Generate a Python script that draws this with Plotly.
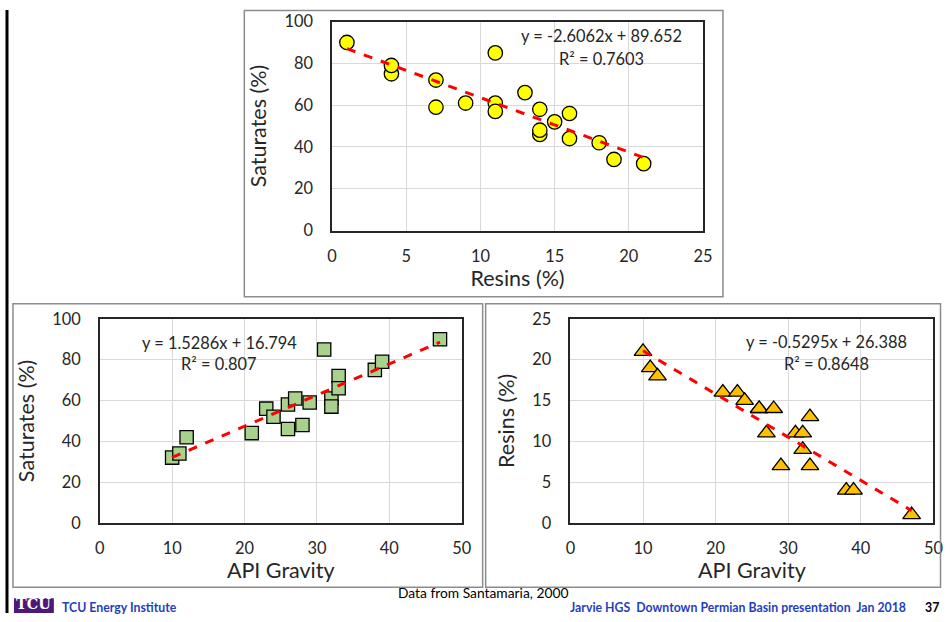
import plotly.graph_objects as go

# ---- data (19 oil samples, Santamaria 2000) ----
api_gravity = [10, 11, 12, 21, 23, 24, 26, 26, 27, 28, 29, 31, 32, 32, 33, 33, 38, 39, 47]
resins =      [21, 19, 18, 16, 16, 15, 14, 14, 11, 14, 7, 11, 9, 11, 7, 13, 4, 4, 1]
saturates =   [32, 34, 42, 44, 56, 52, 58, 46, 61, 48, 59, 85, 61, 57, 72, 66, 75, 79, 90]

# trendline coefficients (as labelled)
fit_sat_res = (-2.6062, 89.652)
fit_sat_api = (1.5286, 16.794)
fit_res_api = (-0.5295, 26.388)
eq_labels = [
    ("y = -2.6062x + 89.652", "R² = 0.7603"),
    ("y = 1.5286x + 16.794", "R² = 0.807"),
    ("y = -0.5295x + 26.388", "R² = 0.8648"),
]

W, H = 951, 622
FONT = "Lato"
TXT = "#262626"

# mapping from target picture pixels to page pixels (measured on the capture)
SX, BX = 0.987, 4.0
SY, BY = 0.965, 10.5
FS = 1 / 0.975  # font/marker compensation

def px(x):
    return min(max((x - BX) / SX, 0.5), W - 0.5) / W

def py(y):
    return 1 - min(max((y - BY) / SY, 0.5), H - 0.5) / H

def fs(s):
    return round(s * FS, 1)

fig = go.Figure()

def trend(xs, fit):
    x0, x1 = min(xs), max(xs)
    return [x0, x1], [fit[0] * x0 + fit[1], fit[0] * x1 + fit[1]]

# top: saturates vs resins
fig.add_trace(go.Scatter(x=resins, y=saturates, mode="markers", xaxis="x", yaxis="y",
                         marker=dict(symbol="circle", size=fs(14), color="#ffff00",
                                     line=dict(color="#000000", width=1.3)), showlegend=False))
tx, ty = trend(resins, fit_sat_res)
fig.add_trace(go.Scatter(x=tx, y=ty, mode="lines", xaxis="x", yaxis="y",
                         line=dict(color="#ff0000", width=3, dash="dash"), showlegend=False))

# bottom-left: saturates vs API
fig.add_trace(go.Scatter(x=api_gravity, y=saturates, mode="markers", xaxis="x2", yaxis="y2",
                         marker=dict(symbol="square", size=fs(13), color="#a9d18e",
                                     line=dict(color="#000000", width=1.3)), showlegend=False))
tx, ty = trend(api_gravity, fit_sat_api)
fig.add_trace(go.Scatter(x=tx, y=ty, mode="lines", xaxis="x2", yaxis="y2",
                         line=dict(color="#ff0000", width=3, dash="dash"), showlegend=False))

# bottom-right: resins vs API
fig.add_trace(go.Scatter(x=api_gravity, y=resins, mode="markers", xaxis="x3", yaxis="y3",
                         marker=dict(symbol="triangle-up", size=fs(15), color="#ffc000",
                                     line=dict(color="#000000", width=1.3)), showlegend=False))
tx, ty = trend(api_gravity, fit_res_api)
fig.add_trace(go.Scatter(x=tx, y=ty, mode="lines", xaxis="x3", yaxis="y3",
                         line=dict(color="#ff0000", width=3, dash="dash"), showlegend=False))

def xax(dom, rng, dtick, title, anchor):
    return dict(domain=dom, range=rng, dtick=dtick, anchor=anchor,
                showgrid=True, gridcolor="#d9d9d9", gridwidth=1, zeroline=False,
                showline=True, linecolor="#262626", linewidth=1.5, mirror=True,
                ticks="", ticklabelstandoff=10, tickfont=dict(size=fs(16), color=TXT, family=FONT),
                title=dict(text=title, font=dict(size=fs(21), color=TXT, family=FONT), standoff=4))

def yax(dom, rng, dtick, title, anchor):
    return dict(domain=dom, range=rng, dtick=dtick, anchor=anchor,
                showgrid=True, gridcolor="#d9d9d9", gridwidth=1, zeroline=False,
                showline=True, linecolor="#262626", linewidth=1.5, mirror=True,
                ticks="", ticklabelstandoff=14, tickfont=dict(size=fs(16), color=TXT, family=FONT),
                title=dict(text=title, font=dict(size=fs(21), color=TXT, family=FONT), standoff=12))

fig.update_layout(
    width=W, height=H, margin=dict(l=0, r=0, t=0, b=0),
    paper_bgcolor="white", plot_bgcolor="white",
    font=dict(family=FONT, color=TXT), hovermode=False,
    xaxis=xax([px(332), px(704)], [0, 25], 5, "Resins (%)", "y"),
    yaxis=yax([py(230), py(22)], [0, 100], 20, "Saturates (%)", "x"),
    xaxis2=xax([px(99), px(462)], [0, 50], 10, "API Gravity", "y2"),
    yaxis2=yax([py(521), py(318)], [0, 100], 20, "Saturates (%)", "x2"),
    xaxis3=xax([px(571), px(935)], [0, 50], 10, "API Gravity", "y3"),
    yaxis3=yax([py(521), py(318)], [0, 25], 5, "Resins (%)", "x3"),
)

shapes = []
# panel borders
for (x0, y0, x1, y1) in [(244, 7, 724, 296), (12, 303, 483, 585), (486, 303, 949, 585)]:
    shapes.append(dict(type="rect", xref="paper", yref="paper", x0=px(x0), x1=px(x1),
                       y0=py(y1), y1=py(y0), line=dict(color="#8c8c8c", width=1.5)))
# left black edge
shapes.append(dict(type="line", xref="paper", yref="paper", x0=px(6), x1=px(6), y0=0, y1=1,
                   line=dict(color="#000000", width=3)))
# TCU logo box
shapes.append(dict(type="rect", xref="paper", yref="paper", x0=px(13), x1=px(53),
                   y0=0, y1=py(596), fillcolor="#4d1979", line=dict(width=0)))
fig.update_layout(shapes=shapes)

def note(text, x, y, size, color, family=FONT, xanchor="center", yabs=None):
    yy = py(y) if yabs is None else yabs
    return dict(text=text, xref="paper", yref="paper", x=px(x), y=yy,
                xanchor=xanchor, yanchor="middle", showarrow=False,
                font=dict(size=fs(size), color=color, family=family))

ann = []
eq_pos = [(602, 36, 59), (219, 341, 362), (828, 340, 362)]
for (lbl, (cx, y1, y2)) in zip(eq_labels, eq_pos):
    ann.append(note(lbl[0], cx, y1, 16, TXT))
    ann.append(note(lbl[1], cx, y2, 16, TXT))

foot_y = 1 - 616 / H  # bottom line of the slide, kept inside the page
ann.append(note("Data from Santamaria, 2000", 483, 590, 13.5, "#000000"))
ann.append(note("<b>TCU</b>", 33, 0, 14, "white", family="DejaVu Serif", yabs=1 - 612.5 / H))
ann.append(note("<b>TCU Energy Institute</b>", 59, 0, 12, "#1f3fbf", xanchor="left", yabs=foot_y))
ann.append(note("<b>Jarvie HGS  Downtown Permian Basin presentation  Jan 2018</b>", 910, 0, 12,
                "#1f3fbf", xanchor="right", yabs=foot_y))
ann.append(note("<b>37</b>", 945, 0, 12, "#000000", xanchor="right", yabs=foot_y))
fig.update_layout(annotations=ann)

fig.write_html("out.html", config={"displayModeBar": False},
               post_script="document.body.style.margin='0';document.body.style.overflow='hidden';")
